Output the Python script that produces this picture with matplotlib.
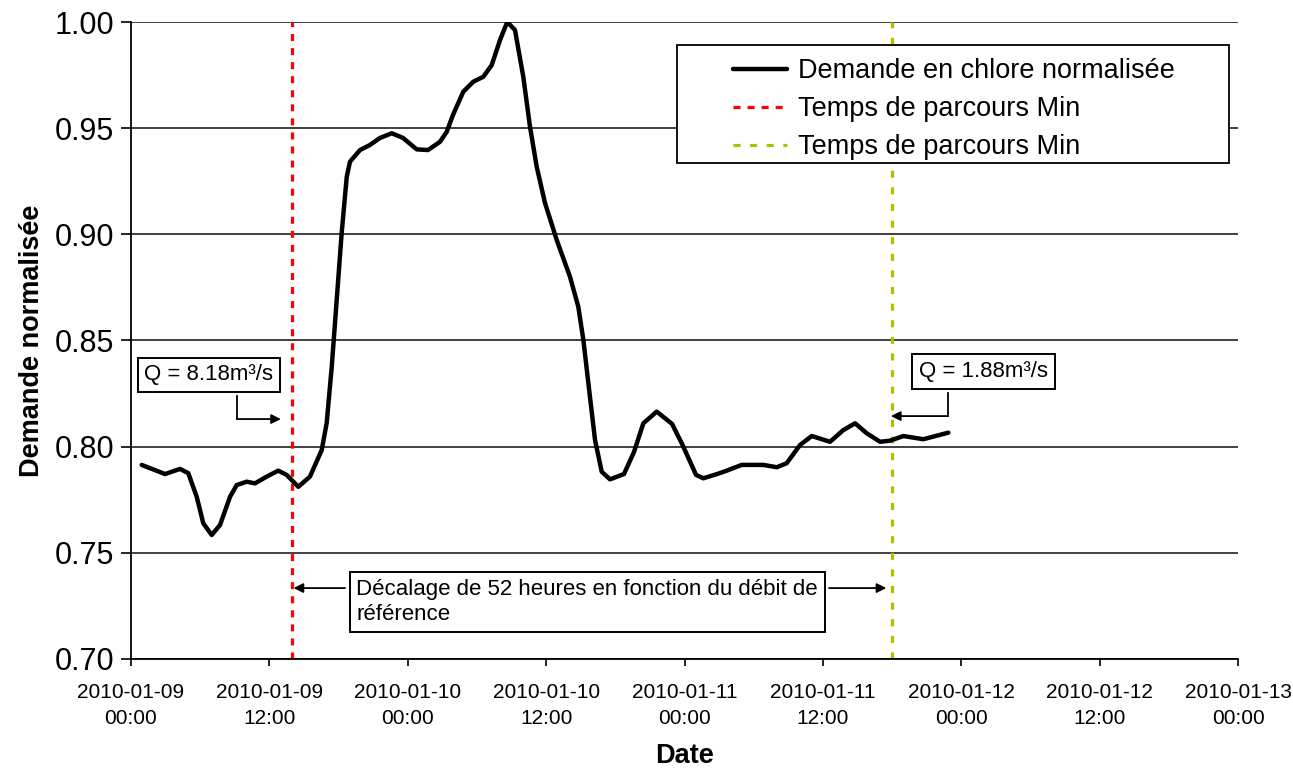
import matplotlib.pyplot as plt
import matplotlib.dates as mdates
from matplotlib.patches import Rectangle
import pandas as pd

plt.rcParams['font.family'] = ['Liberation Sans', 'DejaVu Sans']

START = pd.Timestamp('2010-01-09 00:00')

# demande en chlore normalisée, heures écoulées depuis START
hours = [0.93, 2.95, 4.25, 4.97, 5.70, 6.27, 7.00, 7.72, 8.59, 9.17,
         10.03, 10.75, 11.77, 12.77, 13.50, 14.51, 15.52, 16.54, 16.97, 17.41,
         17.84, 18.27, 18.71, 18.99, 19.86, 20.73, 21.59, 22.61, 23.59, 24.78,
         25.76, 26.80, 27.38, 27.92, 28.82, 29.69, 30.55, 31.28, 32.00, 32.63,
         33.30, 34.02, 34.60, 35.18, 35.90, 36.92, 38.07, 38.79, 39.23, 39.66,
         40.24, 40.82, 41.54, 42.75, 43.62, 44.43, 45.59, 46.92, 47.83, 49.00,
         49.63, 50.82, 51.66, 52.96, 54.84, 56.00, 56.86, 58.02, 59.03, 60.62,
         61.77, 62.79, 63.80, 64.96, 65.82, 66.98, 68.71, 70.88]
demand = [0.7914, 0.7871, 0.7895, 0.7875, 0.7764, 0.7639, 0.7584, 0.7631, 0.7764, 0.7819,
          0.7835, 0.7827, 0.7859, 0.7887, 0.7867, 0.7811, 0.7859, 0.7984, 0.8111, 0.8377,
          0.8691, 0.9006, 0.9271, 0.9342, 0.9397, 0.9421, 0.9454, 0.9476, 0.9454, 0.9400,
          0.9397, 0.9436, 0.9483, 0.9562, 0.9672, 0.9719, 0.9742, 0.9797, 0.9915, 1.0000,
          0.9962, 0.9742, 0.9507, 0.9319, 0.9148, 0.8973, 0.8800, 0.8659, 0.8502, 0.8300,
          0.8031, 0.7882, 0.7846, 0.7871, 0.7975, 0.8110, 0.8165, 0.8107, 0.8008, 0.7867,
          0.7851, 0.7871, 0.7887, 0.7914, 0.7914, 0.7903, 0.7922, 0.8008, 0.8050, 0.8023,
          0.8078, 0.8110, 0.8063, 0.8023, 0.8028, 0.8050, 0.8035, 0.8066]

# temps de parcours (h) pour les deux débits
t_q_high = 14.0   # Q = 8.18 m3/s
t_q_low = 66.0    # Q = 1.88 m3/s
label_main = 'Demande en chlore normalisée'
label_tp = 'Temps de parcours Min'


def at(h):
    return mdates.date2num(START + pd.Timedelta(hours=h))


fig = plt.figure(figsize=(12.93, 7.72), dpi=100)
ax = fig.add_axes([0.1013, 0.1464, 0.8562, 0.8251])

times = [START + pd.Timedelta(hours=h) for h in hours]
ln_main, = ax.plot(times, demand, color='black', lw=3.2, solid_joinstyle='round',
                   solid_capstyle='round', zorder=3, label=label_main)
ln_red = ax.axvline(at(t_q_high), color='#ff0000', lw=2.3, ls=(0, (2.2, 2.2)),
                    zorder=2, label=label_tp)
ln_green = ax.axvline(at(t_q_low), color='#99cc00', lw=2.3, ls=(0, (2.2, 3.0)),
                      zorder=2, label=label_tp)

ax.set_xlim(at(0), at(96))
ax.set_ylim(0.70, 1.00)
ax.set_yticks([0.70, 0.75, 0.80, 0.85, 0.90, 0.95, 1.00])
ax.yaxis.set_major_formatter(plt.FormatStrFormatter('%.2f'))
ax.xaxis.set_major_locator(mdates.HourLocator(byhour=[0, 12]))
ax.xaxis.set_major_formatter(mdates.DateFormatter('%Y-%m-%d\n%H:%M'))

ax.grid(axis='y', color='#404040', lw=1.4, zorder=1)
for s in ['top', 'right']:
    ax.spines[s].set_visible(False)
for s in ['left', 'bottom']:
    ax.spines[s].set_color('black')
    ax.spines[s].set_linewidth(1.3)
ax.tick_params(axis='y', labelsize=22, length=7, width=1.2, pad=5, direction='out')
ax.tick_params(axis='x', labelsize=15, length=5, width=1.2, pad=12, direction='out')
for lab in ax.get_xticklabels():
    lab.set_linespacing(1.5)

ax.set_xlabel('Date', fontsize=19.5, fontweight='bold', labelpad=11)
ax.set_ylabel('Demande normalisée', fontsize=19.5, fontweight='bold', labelpad=7)

box = dict(boxstyle='square,pad=0.3', fc='white', ec='black', lw=1.4)
arrow = dict(arrowstyle='-|>', color='black', lw=1.3, mutation_scale=14,
             shrinkA=0, shrinkB=0)

# débit fort
ax.text(at(6.76), 0.8338, 'Q = 8.18m³/s', fontsize=16, ha='center', va='center',
        bbox=box, zorder=6)
ax.plot([at(9.19), at(9.19)], [0.8239, 0.8130], color='black', lw=1.3, zorder=5)
ax.annotate('', xy=(at(13.0), 0.8130), xytext=(at(9.19), 0.8130),
            arrowprops=arrow, zorder=5)

# débit faible
ax.text(at(73.93), 0.8354, 'Q = 1.88m³/s', fontsize=16, ha='center', va='center',
        bbox=box, zorder=6)
ax.plot([at(70.85), at(70.85)], [0.8253, 0.8144], color='black', lw=1.3, zorder=5)
ax.annotate('', xy=(at(65.9), 0.8144), xytext=(at(70.85), 0.8144),
            arrowprops=arrow, zorder=5)

# décalage entre les deux temps de parcours
ax.text(at(39.55), 0.7268, 'Décalage de 52 heures en fonction du débit de\nréférence',
        fontsize=16, ha='center', va='center', multialignment='left',
        linespacing=1.25, bbox=box, zorder=6)
ax.annotate('', xy=(at(t_q_high + 0.1), 0.7334), xytext=(at(18.56), 0.7334),
            arrowprops=arrow, zorder=5)
ax.annotate('', xy=(at(t_q_low - 0.5), 0.7334), xytext=(at(60.53), 0.7334),
            arrowprops=arrow, zorder=5)

# cadre de la légende
W, H = 1293.0, 772.0
fig.patches.append(Rectangle((677 / W, 1 - 163 / H), 552 / W, 118 / H,
                             transform=fig.transFigure, fc='white', ec='black',
                             lw=1.3, zorder=4))
leg = fig.legend(handles=[ln_main, ln_red, ln_green], loc='upper left',
                 bbox_to_anchor=(733 / W, 1 - 58 / H), frameon=False,
                 fontsize=19.5, borderpad=0, borderaxespad=0, handlelength=2.0,
                 handletextpad=0.4, labelspacing=0.45)
leg.set_zorder(6)

fig.savefig('out.png', dpi=100)
